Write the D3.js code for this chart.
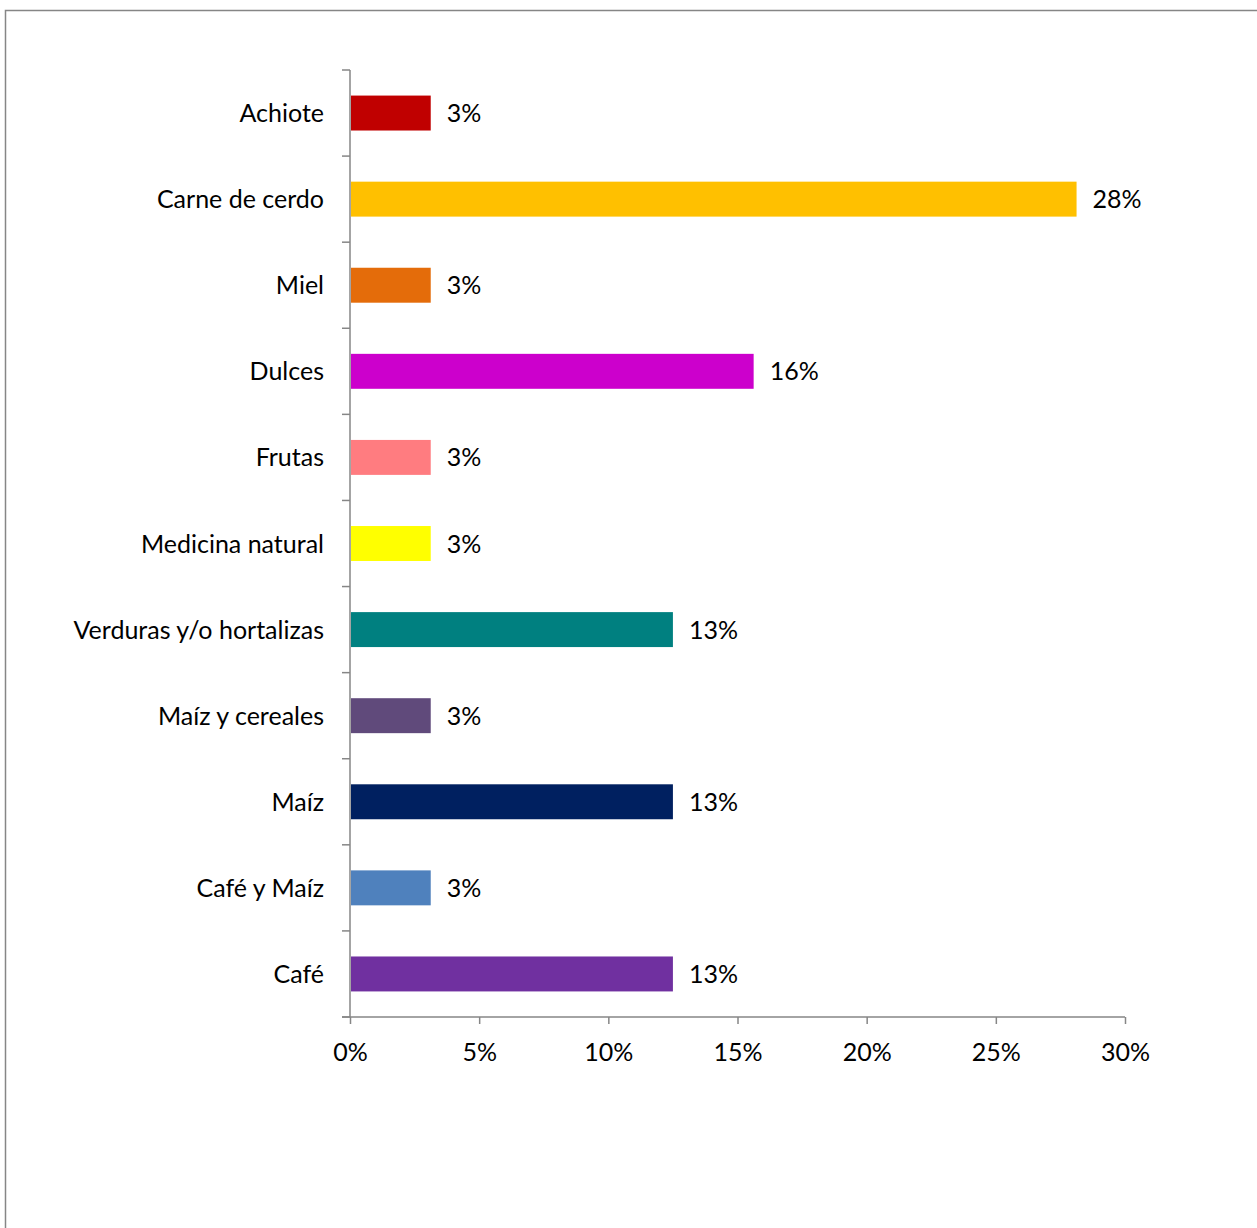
<!DOCTYPE html>
<html>
<head>
<meta charset="utf-8">
<script src="https://cdn.jsdelivr.net/npm/d3@7"></script>
<style>
  html, body { margin: 0; padding: 0; background: #fff; }
  svg { display: block; }
  text { font-family: Lato, "Open Sans", sans-serif; fill: #000; }
</style>
</head>
<body>
<svg id="chart" width="1257" height="1228"></svg>
<script>
// Product categories, top to bottom
const categories = [
  "Achiote", "Carne de cerdo", "Miel", "Dulces", "Frutas", "Medicina natural",
  "Verduras y/o hortalizas", "Maíz y cereales", "Maíz", "Café y Maíz", "Café"
];
// Share of respondents (percent)
const values = [3.125, 28.125, 3.125, 15.625, 3.125, 3.125, 12.5, 3.125, 12.5, 3.125, 12.5];
// Bar fill per category
const colors = [
  "#C00000", "#FFC000", "#E46C0A", "#CC00CC", "#FF7C80", "#FFFF00",
  "#008080", "#604A7B", "#002060", "#4F81BD", "#7030A0"
];
// X axis ticks (percent)
const xTicks = [0, 5, 10, 15, 20, 25, 30];

const data = categories.map((c, i) => ({ cat: c, v: values[i], color: colors[i] }));

const svg = d3.select("#chart");
const axisColor = "#868686";
const fontSize = 25;

// Outer frame
svg.append("rect")
  .attr("x", 5.5).attr("y", 10.5)
  .attr("width", 1400).attr("height", 1400)
  .attr("fill", "none").attr("stroke", axisColor).attr("stroke-width", 1.5);

const x = d3.scaleLinear().domain([0, 30]).range([350, 1125]);
const y = d3.scaleBand().domain(categories).range([70, 1017])
  .paddingInner(0.594).paddingOuter(0.297);

// Bars
svg.append("g").selectAll("rect").data(data).join("rect")
  .attr("x", x(0) + 1)
  .attr("y", d => y(d.cat))
  .attr("width", d => x(d.v) - x(0) - 1)
  .attr("height", y.bandwidth())
  .attr("fill", d => d.color);

// Value labels
const fmt = d3.format(".0f");
svg.append("g").selectAll("text").data(data).join("text")
  .attr("x", d => x(d.v) + 16)
  .attr("y", d => y(d.cat) + y.bandwidth() / 2)
  .attr("dy", "0.36em")
  .attr("font-size", fontSize)
  .text(d => fmt(d.v) + "%");

// Category axis: vertical line with ticks at band boundaries
const gy = svg.append("g");
const [y0, y1] = y.range();
gy.append("line")
  .attr("x1", x(0)).attr("x2", x(0))
  .attr("y1", y0).attr("y2", y1)
  .attr("stroke", axisColor).attr("stroke-width", 1.5);
gy.selectAll("line.tick").data(d3.range(categories.length + 1)).join("line")
  .attr("class", "tick")
  .attr("x1", x(0) - 8).attr("x2", x(0))
  .attr("y1", i => y0 + i * y.step()).attr("y2", i => y0 + i * y.step())
  .attr("stroke", axisColor).attr("stroke-width", 1.5);
gy.selectAll("text").data(categories).join("text")
  .attr("x", 324)
  .attr("y", d => y(d) + y.bandwidth() / 2)
  .attr("dy", "0.36em")
  .attr("text-anchor", "end")
  .attr("font-size", fontSize)
  .text(d => d);

// Value axis
const gx = svg.append("g")
  .attr("transform", `translate(0,${y1})`)
  .call(d3.axisBottom(x).tickValues(xTicks).tickFormat(d => d + "%").tickSize(7).tickSizeOuter(0));
gx.select(".domain").attr("stroke", axisColor).attr("stroke-width", 1.5)
  .attr("d", `M${x(0) - 8},0H${x(30)}`);
gx.selectAll(".tick line").attr("stroke", axisColor).attr("stroke-width", 1.5);
gx.selectAll(".tick text")
  .attr("font-size", fontSize)
  .attr("font-family", "Lato, 'Open Sans', sans-serif")
  .attr("fill", "#000")
  .attr("y", 26)
  .attr("dy", "0.71em");
</script>
</body>
</html>
